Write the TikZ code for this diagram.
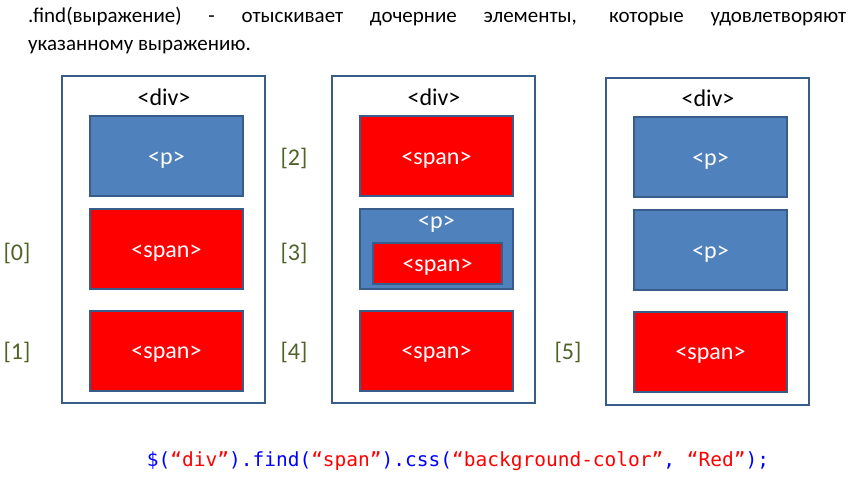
\documentclass[tikz,border=0pt]{standalone}
\usepackage{fontspec}
\setmainfont{Carlito}
\setmonofont{DejaVu Sans Mono}
\definecolor{pblue}{HTML}{4F81BD}
\definecolor{edgeblue}{HTML}{385D8A}
\definecolor{idxgreen}{HTML}{4F6228}
\definecolor{codeblue}{HTML}{0000FF}
\tikzset{
  divbox/.style={draw=edgeblue, line width=2pt, minimum width=203pt, minimum height=327pt, inner sep=0pt},
  boxtext/.style={text=white, text height=16pt, text depth=0pt, font=\fontsize{24}{26}\selectfont},
  pbox/.style={boxtext, draw=edgeblue, line width=2pt, fill=pblue, minimum width=153pt, minimum height=80pt, inner sep=0pt},
  spanbox/.style={pbox, fill=red},
  idx/.style={text=idxgreen, font=\fontsize{24}{26}\selectfont},
  tag/.style={font=\fontsize{24}{26}\selectfont}
}
\begin{document}
\begin{tikzpicture}[x=1pt, y=-1pt]
    \useasboundingbox (0,0) rectangle (859,479);
    % heading
    \node[anchor=north west, inner sep=0pt, align=left, font=\fontsize{21}{28}\selectfont] (title) at (28,7)
        {\makebox[818pt][s]{.find(выражение) - отыскивает дочерние элементы, которые удовлетворяют}\\
         указанному выражению.};
    % first div
    \node[divbox] (div1) at (163.5,239.5) {};
    \node[tag] (div1tag) at (164,97) {<div>};
    \node[pbox] (p11) at (166.5,156) {<p>};
    \node[spanbox] (s12) at (166.5,249) {<span>};
    \node[spanbox] (s13) at (166.5,350.5) {<span>};
    % second div
    \node[divbox] (div2) at (433.5,239.5) {};
    \node[tag] (div2tag) at (434,97) {<div>};
    \node[spanbox] (s21) at (436.5,156) {<span>};
    \node[pbox] (p22) at (436.5,249) {};
    \node[boxtext] (p22tag) at (436.5,220) {<p>};
    \node[spanbox, minimum width=129pt, minimum height=41pt] (s22) at (437.5,263.5) {<span>};
    \node[spanbox] (s23) at (436.5,350.5) {<span>};
    % third div
    \node[divbox] (div3) at (707.5,241.5) {};
    \node[tag] (div3tag) at (708,98) {<div>};
    \node[pbox] (p31) at (710.5,157) {<p>};
    \node[pbox] (p32) at (710.5,250) {<p>};
    \node[spanbox] (s33) at (710.5,351.5) {<span>};
    % indices of the found spans
    \foreach \i/\x/\y in {0/17/253, 1/17/352, 2/294/158, 3/294/253, 4/294/352, 5/568/352} {
        \node[idx] (idx\i) at (\x,\y) {[\i]};
    }
    % jQuery call
    \node[font=\ttfamily\fontsize{19.5}{22}\selectfont] (code) at (458,461)
        {\textcolor{codeblue}{\$(}\textcolor{red}{“div”}\textcolor{codeblue}{).find(}\textcolor{red}{“span”}\textcolor{codeblue}{).css(}\textcolor{red}{“background-color”}\textcolor{codeblue}{, }\textcolor{red}{“Red”}\textcolor{codeblue}{);}};
\end{tikzpicture}
\end{document}
